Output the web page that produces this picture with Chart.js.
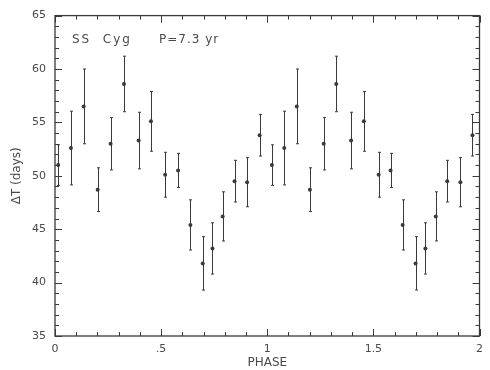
<!DOCTYPE html>
<html>
<head>
<meta charset="utf-8">
<script src="https://cdn.jsdelivr.net/npm/chart.js@4/dist/chart.umd.min.js"></script>
<style>
  html, body { margin: 0; padding: 0; background: #ffffff; }
  #wrap { width: 490px; height: 370px; position: relative; }
</style>
</head>
<body>
<div id="wrap"><canvas id="c" width="490" height="370"></canvas></div>
<script>
// ---- data ----
const phase = [0.015, 0.075, 0.135, 0.201, 0.262, 0.325, 0.394, 0.452, 0.519, 0.580, 0.638, 0.696, 0.742, 0.790, 0.846, 0.905, 0.964,
               1.022, 1.080, 1.139, 1.201, 1.266, 1.325, 1.395, 1.455, 1.525, 1.581, 1.638, 1.699, 1.745, 1.794, 1.848, 1.910, 1.967];
const deltaT = [51.0, 52.6, 56.5, 48.7, 53.0, 58.6, 53.3, 55.1, 50.1, 50.5, 45.4, 41.8, 43.2, 46.2, 49.5, 49.4, 53.8,
                51.0, 52.6, 56.5, 48.7, 53.0, 58.6, 53.3, 55.1, 50.1, 50.5, 45.4, 41.8, 43.2, 46.2, 49.5, 49.4, 53.8];
const errT = [1.9, 3.45, 3.5, 2.05, 2.45, 2.6, 2.65, 2.8, 2.1, 1.6, 2.35, 2.5, 2.4, 2.3, 1.95, 2.3, 1.95,
              1.9, 3.45, 3.5, 2.05, 2.45, 2.6, 2.65, 2.8, 2.1, 1.6, 2.35, 2.5, 2.4, 2.3, 1.95, 2.3, 1.95];
const xTickLabels = {0: '0', 0.5: '.5', 1: '1', 1.5: '1.5', 2: '2'};
const yTickLabels = ['35', '40', '45', '50', '55', '60', '65'];
const starName = 'SS  Cyg';
const periodText = 'P=7.3 yr';

const INK = '#3a3a3a';
const TXT = '#4a4a4a';

const framePlugin = {
  id: 'frameTicks',
  afterDraw(chart) {
    const {ctx, chartArea: a, scales: {x, y}} = chart;
    ctx.save();
    ctx.strokeStyle = INK;
    ctx.lineWidth = 1.3;
    ctx.strokeRect(a.left, a.top, a.right - a.left, a.bottom - a.top);
    ctx.lineWidth = 1;
    ctx.beginPath();
    for (let i = 0; i <= 20; i++) {
      const v = i / 10;
      const px = Math.round(x.getPixelForValue(v)) + 0.5;
      const len = (i % 5 === 0) ? 7 : 4;
      ctx.moveTo(px, a.bottom); ctx.lineTo(px, a.bottom - len);
      ctx.moveTo(px, a.top); ctx.lineTo(px, a.top + len);
    }
    for (let v = 35; v <= 65; v++) {
      const py = Math.round(y.getPixelForValue(v)) + 0.5;
      const len = (v % 5 === 0) ? 7 : 4;
      ctx.moveTo(a.left, py); ctx.lineTo(a.left + len, py);
      ctx.moveTo(a.right, py); ctx.lineTo(a.right - len, py);
    }
    ctx.stroke();
    ctx.fillStyle = TXT;
    ctx.font = '12px "DejaVu Sans"';
    ctx.textBaseline = 'middle';
    ctx.letterSpacing = '2px';
    ctx.fillText(starName, x.getPixelForValue(0.08), y.getPixelForValue(62.75));
    ctx.letterSpacing = '1px';
    ctx.fillText(periodText, x.getPixelForValue(0.49), y.getPixelForValue(62.75));
    ctx.restore();
  }
};

const errorBarPlugin = {
  id: 'errorBars',
  beforeDatasetsDraw(chart) {
    const {ctx, scales: {x, y}} = chart;
    ctx.save();
    ctx.strokeStyle = INK;
    ctx.lineWidth = 1;
    ctx.beginPath();
    for (let i = 0; i < phase.length; i++) {
      const px = Math.round(x.getPixelForValue(phase[i])) + 0.5;
      const top = y.getPixelForValue(deltaT[i] + errT[i]);
      const bot = y.getPixelForValue(deltaT[i] - errT[i]);
      ctx.moveTo(px, top); ctx.lineTo(px, bot);
      ctx.moveTo(px - 1.5, top); ctx.lineTo(px + 1.5, top);
      ctx.moveTo(px - 1.5, bot); ctx.lineTo(px + 1.5, bot);
    }
    ctx.stroke();
    ctx.restore();
  }
};

new Chart(document.getElementById('c'), {
  type: 'scatter',
  data: {
    datasets: [{
      data: phase.map((p, i) => ({x: p, y: deltaT[i]})),
      pointRadius: 2,
      pointBackgroundColor: INK,
      pointBorderColor: INK,
      pointBorderWidth: 0
    }]
  },
  options: {
    responsive: false,
    animation: false,
    devicePixelRatio: 1,
    layout: { padding: { left: 0, right: 5, top: 15, bottom: 0 } },
    plugins: { legend: { display: false }, tooltip: { enabled: false } },
    scales: {
      x: {
        type: 'linear', min: 0, max: 2,
        afterFit(s) { s.height = 34; },
        grid: { display: false, drawTicks: false },
        border: { display: false },
        ticks: {
          stepSize: 0.5, padding: 7, color: TXT,
          font: { family: 'DejaVu Sans', size: 11 },
          maxRotation: 0,
          callback: v => xTickLabels[v] ?? ''
        },
        title: { display: true, text: 'PHASE', color: TXT, padding: { top: 0, bottom: 0 },
                 font: { family: 'DejaVu Sans', size: 12 } }
      },
      y: {
        type: 'linear', min: 35, max: 65,
        afterFit(s) { s.width = 55; },
        grid: { display: false, drawTicks: false },
        border: { display: false },
        ticks: {
          stepSize: 5, padding: 9, color: TXT,
          font: { family: 'DejaVu Sans', size: 11 },
          callback: (v) => yTickLabels[Math.round((v - 35) / 5)] ?? ''
        },
        title: { display: true, text: 'ΔT (days)', color: TXT, padding: { top: 10, bottom: 0 },
                 font: { family: 'DejaVu Sans', size: 12 } }
      }
    }
  },
  plugins: [errorBarPlugin, framePlugin]
});
</script>
</body>
</html>
